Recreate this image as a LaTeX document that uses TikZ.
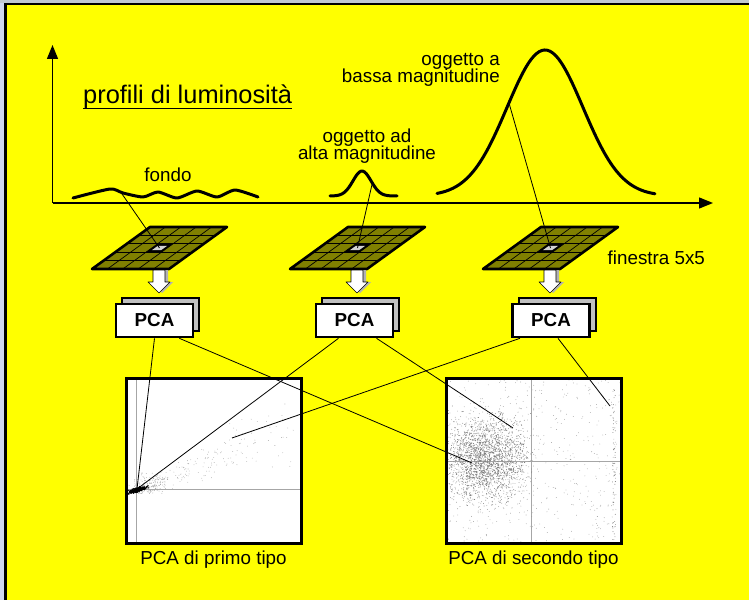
\documentclass[tikz,border=0pt]{standalone}
\usepackage{fontspec}
\setmainfont{Liberation Sans}
\usepackage{tikz}
\usetikzlibrary{arrows.meta,positioning,calc,shadows}
\usepackage{xcolor}
\definecolor{paneyellow}{RGB}{255,255,0}
\definecolor{frametop}{RGB}{192,200,208}
\definecolor{frameleft}{RGB}{208,216,240}
\definecolor{cellolive}{RGB}{128,128,0}
\definecolor{boxgray}{RGB}{192,192,192}

\begin{document}
\begin{tikzpicture}[x=1bp,y=-1bp,
    lbl/.style={font=\fontsize{18.8bp}{17.6bp}\selectfont,inner sep=0pt},
    pcabox/.style={draw,line width=2.6bp,fill=white,
      minimum width=77bp,minimum height=33bp,inner sep=0pt,
      font=\fontsize{18.8bp}{19bp}\selectfont\bfseries,
      copy shadow={shadow xshift=6bp,shadow yshift=6bp,
        fill=boxgray,draw=black,line width=2bp}},
    plotbox/.style={fill=white,minimum width=175bp,minimum height=165bp,
      inner sep=0pt,outer sep=0pt},
    link/.style={line width=0.8bp},
    curve/.style={line width=3bp,line join=round,line cap=round},
    axis/.style={line width=1.3bp,-{Triangle[length=14bp,width=11bp]}},
    dot/.style={line width=0.8bp,gray!70}]

  \useasboundingbox (0,0) rectangle (749,600);
  % background and frame
  \fill[paneyellow] (0,0) rectangle (749,600);
  \fill[frametop] (0,0) rectangle (749,3.3);
  \fill[frameleft] (0,3.3) rectangle (4.3,600);
  \fill[black] (4.3,3.3) rectangle (749,5.3);
  \fill[black] (4.3,3.3) rectangle (7,600);

  % profiles
  \coordinate (o) at (52.5,203);
  \draw[axis] (o) -- (52.5,45);
  \draw[axis] (o) -- (713,203);

  \node[lbl,font=\fontsize{25.4bp}{28bp}\selectfont,anchor=base west]
    (title) at (83,104) {profili di luminosità};
  \draw[line width=1.8bp] ($(title.base west)+(0,4.5)$) -- ($(title.base east)+(0,4.5)$);

  \draw[curve] plot[smooth,tension=0.4] coordinates {(73,198) (110,189) (123,193)
    (143,197) (158,192) (177,198) (197,191) (217,197) (235,190) (258,197)};
  \draw[curve] plot[smooth,domain=330:397,samples=40]
    (\x,{196-25*exp(-((\x-362)^2)/162)});
  \draw[curve] plot[smooth,domain=437:655,samples=80]
    (\x,{196-146*exp(-((\x-545)^2)/2888)});

  \node[lbl,anchor=base] (fondo) at (168,181.5) {fondo};
  \node[lbl,align=center] (alta) at (367,146) {oggetto ad\\alta magnitudine};
  \node[lbl,align=right,anchor=east] (bassa) at (500,70) {oggetto a\\bassa magnitudine};
  \node[lbl,anchor=base west] (fin) at (607.5,264.3) {finestra 5x5};

  \coordinate (bg) at (121,192.5);
  \coordinate (lo) at (372,184.5);
  \coordinate (hi) at (509,103);

  % windows, arrows, PCA boxes
  \foreach \n/\gx/\ax/\bx in {1/92/159/154.5,2/290/357/354.5,3/483/550/551}{
    \begin{scope}[shift={(\gx,269)},x={(15.4bp,0bp)},y={(11.6bp,8.4bp)}]
      \fill[cellolive] (0,0) -- (5,0) -- (5,5) -- (0,5) -- cycle;
      \fill[black] (2,2) -- (3,2) -- (3,3) -- (2,3) -- cycle;
      \fill[gray!35] (2.2,2.25) -- (2.8,2.25) -- (2.8,2.75) -- (2.2,2.75) -- cycle;
      \foreach \k in {1,...,4}{
        \draw[line width=0.7bp] (\k,0) -- (\k,5);
        \draw[line width=0.7bp] (0,\k) -- (5,\k);
      }
      \draw[line width=2.6bp,line join=round] (0,0) -- (5,0) -- (5,5) -- (0,5) -- cycle;
      \coordinate (w\n) at (2.5,2.5);
    \end{scope}
    \begin{scope}[shift={(\ax,270)}]
      \fill[gray!60,xshift=3bp] (-6,0) -- (6,0) -- (6,12) -- (11,12) -- (0,23)
        -- (-11,12) -- (-6,12) -- cycle;
      \filldraw[fill=white,line width=0.6bp,line join=round] (-6,0) -- (6,0) -- (6,12)
        -- (11,12) -- (0,23) -- (-11,12) -- (-6,12) -- cycle;
    \end{scope}
    \node[pcabox] (pca\n) at (\bx,320.5) {PCA};
  }

  % scatter plots
  \node[plotbox] (plot1) at (213.5,460.5) {};
  \node[plotbox] (plot2) at (533.5,460.5) {};
  \node[lbl,below=7.5bp of plot1] (cap1) {PCA di primo tipo};
  \node[lbl,below=7.5bp of plot2] (cap2) {PCA di secondo tipo};

  \begin{scope}
    \clip (plot1.south west) rectangle (plot1.north east);
    \pgfmathsetseed{41}
    \draw[dot] (136,378) -- (136,543);
    \draw[dot] (126,489) -- (301,489);
    \fill[black!35] \foreach \i [evaluate=\i as \tv using rnd^1.6,
        evaluate=\i as \sv using rand+rand+rand] in {1,...,220}
      {({137+158*\tv+0.365*(3+12*\tv)*\sv},{490-62*\tv+0.93*(3+12*\tv)*\sv}) circle (0.4)};
    \fill[black!40] \foreach \i in {1,...,110}
      {({150+10*(rand+rand+rand)},{484+5*(rand+rand+rand)}) circle (0.4)};
    \fill[black] \foreach \i [evaluate=\i as \av using rand+rand+rand,
        evaluate=\i as \bv using rand+rand+rand] in {1,...,260}
      {({137+4.5*\av},{490-1.35*\av+1.1*\bv}) circle (0.7)};
  \end{scope}

  \begin{scope}
    \clip (plot2.south west) rectangle (plot2.north east);
    \draw[dot] (531,378) -- (531,543);
    \draw[dot] (446,461) -- (621,461);
    \fill[black!50] \foreach \i in {1,...,2400}
      {({485+20*(rand+rand+rand)},{459+20*(rand+rand+rand)}) circle (0.42)};
    \fill[black!40] \foreach \i in {1,...,500}
      {({447+173*rnd},{379+163*rnd}) circle (0.4)};
    \fill[black!55] \foreach \i in {1,...,60}
      {({614+1.5*rand},{379+163*rnd}) circle (0.45)};
  \end{scope}
  \draw[line width=3bp] (plot1.south west) rectangle (plot1.north east);
  \draw[line width=3bp] (plot2.south west) rectangle (plot2.north east);

  \coordinate (k1) at (137,489);
  \coordinate (k2) at (472,463);
  \coordinate (t1) at (232,438);
  \coordinate (t2) at (513,428);
  \coordinate (t3) at (610,406);

  % connectors
  \draw[link] (bg) -- (w1);
  \draw[link] (lo) -- (w2);
  \draw[link] (hi) -- (w3);
  \draw[link] (pca1.south) -- (k1);
  \draw[link] ([xshift=-15bp]pca1.south east) -- (k2);
  \draw[link] ([xshift=-16bp]pca2.south) -- (k1);
  \draw[link] ([xshift=22bp]pca2.south) -- (t2);
  \draw[link] ([xshift=-31bp]pca3.south) -- (t1);
  \draw[link] ([xshift=7bp]pca3.south) -- (t3);
\end{tikzpicture}
\end{document}
